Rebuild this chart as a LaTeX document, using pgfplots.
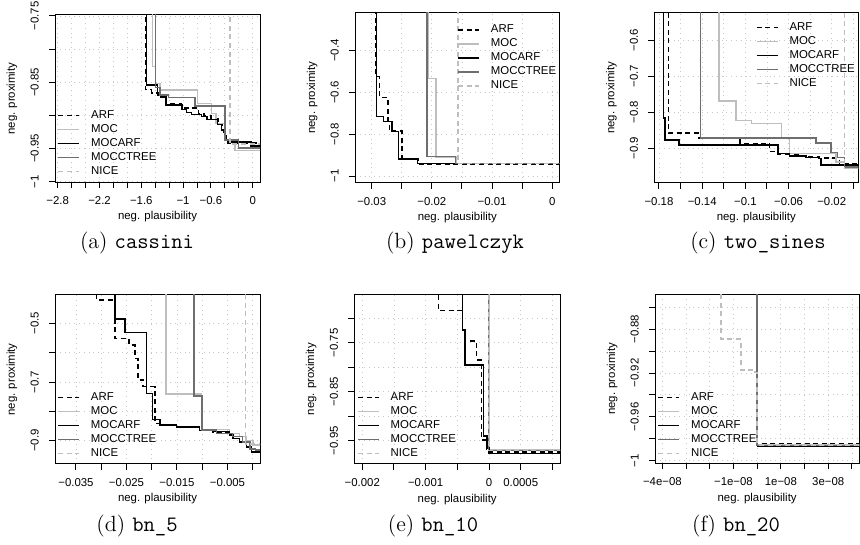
\documentclass[border=0pt]{standalone}
\usepackage{fontspec}
\usepackage{pgfplots}
\pgfplotsset{compat=1.18}
\newfontfamily\rfont{Liberation Sans}
\newcommand\rf{\rfont\fontsize{5.7}{6.8}\selectfont}
\definecolor{mocgray}{RGB}{190,190,190}
\definecolor{treegray}{RGB}{110,110,110}
\definecolor{gridgray}{RGB}{200,200,200}

\tikzset{
  arf/.style={black, line width=0.75pt, dash pattern=on 2.5pt off 1.8pt},
  moc/.style={mocgray, line width=0.75pt},
  mocarf/.style={black, line width=0.75pt},
  tree/.style={treegray, line width=0.75pt},
  nice/.style={mocgray, line width=0.75pt, dash pattern=on 2.5pt off 1.8pt},
}

\pgfplotsset{
  rpanel/.style={
    scale only axis, anchor=south west,
    const plot, clip=true, scaled ticks=false,
    axis line style={line width=0.5pt},
    tick align=outside, xtick pos=left, ytick pos=left,
    major tick length=3pt, tick style={black, line width=0.5pt},
    xmajorgrids, ymajorgrids, major grid style={dotted, gridgray, line width=0.45pt},
    tick label style={font=\rf}, label style={font=\rf},
    xticklabel style={anchor=north, inner sep=0pt},
    yticklabel style={rotate=90, anchor=south, inner sep=0pt},
    xticklabel shift=4pt, yticklabel shift=5pt,
    xlabel={neg. plausibility}, ylabel={neg. proximity},
    xlabel style={at={(axis description cs:0.5,-0.207)}, anchor=center},
    ylabel style={at={(axis description cs:-0.21,0.5)}, anchor=center},
    legend style={draw=none, fill=none, font=\rf, inner sep=0pt, row sep=1.6pt, anchor=north west,
      nodes={inner sep=0pt, text height=4.2pt, text depth=1.2pt}},
    legend cell align=left,
    legend image code/.code={\draw[##1] (0pt,0pt) -- (10.5pt,0pt); \path (16pt,0pt);},
  },
}

\begin{document}
\begin{tikzpicture}
\path (0pt,0pt) rectangle (430pt,-272.5pt);

% (a) cassini
\begin{axis}[rpanel, at={(27.5pt,-91.15pt)}, width=102.5pt, height=83.65pt,
  xmin=-2.839, xmax=0.105, ymin=-1.001, ymax=-0.7485,
  xtick={-2.8,-2.6,-2.4,-2.2,-2,-1.8,-1.6,-1.4,-1.2,-1,-0.8,-0.6,-0.4,-0.2,0},
  xticklabels={−2.8,,,−2.2,,,−1.6,,,−1,,−0.6,,,0},
  ytick={-1,-0.95,-0.9,-0.85,-0.8,-0.75},
  yticklabels={−1,−0.95,,−0.85,,−0.75},
  legend style={at={(0.011,0.433)}}]
\addplot[arf] coordinates {(-1.542,-0.70)(-1.542,-0.861)(-1.45,-0.866)(-1.36,-0.872)(-1.25,-0.883)(-1.02,-0.889)(-0.781,-0.897)(-0.70,-0.901)(-0.60,-0.905)(-0.50,-0.912)(-0.44,-0.921)(-0.41,-0.930)(-0.385,-0.937)(-0.36,-0.942)(0.2,-0.942)};
\addplot[moc] coordinates {(-1.436,-0.70)(-1.436,-0.8265)(-1.393,-0.852)(-1.331,-0.862)(-0.790,-0.882)(-0.589,-0.897)(-0.527,-0.912)(-0.398,-0.937)(-0.254,-0.953)(0.2,-0.953)};
\addplot[mocarf] coordinates {(-1.528,-0.70)(-1.528,-0.854)(-1.364,-0.869)(-1.245,-0.884)(-1.019,-0.891)(-0.948,-0.896)(-0.876,-0.899)(-0.732,-0.902)(-0.660,-0.906)(-0.503,-0.914)(-0.445,-0.922)(-0.408,-0.930)(-0.388,-0.937)(-0.359,-0.940)(-0.024,-0.946)(0.2,-0.946)};
\addplot[tree] coordinates {(-1.395,-0.70)(-1.395,-0.8576)(-1.331,-0.869)(-1.211,-0.873)(-0.828,-0.886)(-0.398,-0.937)(-0.207,-0.949)(0.2,-0.949)};
\addplot[nice] coordinates {(-0.326,-0.70)(-0.326,-0.943)(0.2,-0.943)};
\legend{ARF,MOC,MOCARF,MOCCTREE,NICE}
\end{axis}

% (b) pawelczyk
\begin{axis}[rpanel, at={(177.5pt,-91.35pt)}, width=102.25pt, height=85pt,
  xmin=-0.03278, xmax=0.00122, ymin=-1.032, ymax=-0.218,
  xtick={-0.03,-0.025,-0.02,-0.015,-0.01,-0.005,0},
  xticklabels={−0.03,,−0.02,,−0.01,,0},
  ytick={-1,-0.8,-0.6,-0.4},
  yticklabels={−1,−0.8,−0.6,−0.4},
  legend style={at={(0.499,0.933)}}]
\addplot[arf] coordinates {(-0.0293,-0.2)(-0.0293,-0.524)(-0.0287,-0.623)(-0.02733,-0.740)(-0.02707,-0.785)(-0.0250,-0.918)(-0.0223,-0.942)(0.002,-0.942)};
\addplot[moc] coordinates {(-0.02067,-0.2)(-0.02067,-0.532)(-0.01928,-0.909)(-0.0159,-0.940)(0.002,-0.940)};
\addplot[mocarf] coordinates {(-0.02917,-0.2)(-0.02917,-0.716)(-0.02807,-0.740)(-0.02667,-0.788)(-0.02557,-0.918)(-0.0224,-0.939)(0.002,-0.939)};
\addplot[tree] coordinates {(-0.02083,-0.2)(-0.02083,-0.907)(-0.0161,-0.939)(0.002,-0.939)};
\addplot[nice] coordinates {(-0.01567,-0.2)(-0.01567,-0.941)(0.002,-0.941)};
\legend{ARF,MOC,MOCARF,MOCCTREE,NICE}
\end{axis}

% (c) two_sines
\begin{axis}[rpanel, at={(327.15pt,-91.35pt)}, width=102pt, height=85pt,
  xmin=-0.18434, xmax=0.0046, ymin=-0.995, ymax=-0.524,
  xtick={-0.18,-0.16,-0.14,-0.12,-0.1,-0.08,-0.06,-0.04,-0.02,0},
  xticklabels={−0.18,,−0.14,,−0.1,,−0.06,,−0.02,},
  ytick={-0.9,-0.8,-0.7,-0.6},
  yticklabels={−0.9,−0.8,−0.7,−0.6},
  legend style={at={(0.497,0.946)}}]
\addplot[arf] coordinates {(-0.1714,-0.5)(-0.1714,-0.858)(-0.1428,-0.872)(-0.1052,-0.886)(-0.0775,-0.909)(-0.0699,-0.915)(-0.05,-0.922)(-0.032,-0.927)(-0.0129,-0.943)(0.01,-0.943)};
\addplot[moc] coordinates {(-0.1243,-0.5)(-0.1243,-0.768)(-0.1089,-0.822)(-0.0944,-0.831)(-0.0667,-0.872)(-0.059,-0.914)(-0.016,-0.937)(-0.008,-0.955)(0.01,-0.955)};
\addplot[mocarf] coordinates {(-0.176,-0.5)(-0.176,-0.816)(-0.1745,-0.877)(-0.1613,-0.891)(-0.0699,-0.914)(-0.059,-0.921)(-0.0437,-0.925)(-0.0314,-0.928)(-0.0298,-0.946)(0.01,-0.946)};
\addplot[tree] coordinates {(-0.1415,-0.5)(-0.1415,-0.871)(-0.0344,-0.885)(-0.0206,-0.912)(-0.0145,-0.925)(-0.008,-0.952)(0.01,-0.952)};
\addplot[nice] coordinates {(-0.0083,-0.5)(-0.0083,-0.955)(0.01,-0.955)};
\legend{ARF,MOC,MOCARF,MOCCTREE,NICE}
\end{axis}

% (d) bn_5
\begin{axis}[rpanel, at={(27.5pt,-232pt)}, width=102.5pt, height=84.5pt,
  xmin=-0.03915, xmax=0.00144, ymin=-0.9795, ymax=-0.4034,
  xtick={-0.035,-0.03,-0.025,-0.02,-0.015,-0.01,-0.005,0},
  xticklabels={−0.035,,−0.025,,−0.015,,−0.005,},
  ytick={-0.9,-0.8,-0.7,-0.6,-0.5},
  yticklabels={−0.9,,−0.7,,−0.5},
  legend style={at={(0.01,0.427)}}]
\addplot[arf] coordinates {(-0.03092,-0.40)(-0.03092,-0.4204)(-0.02729,-0.551)(-0.02446,-0.574)(-0.02334,-0.62)(-0.02268,-0.693)(-0.02169,-0.716)(-0.01939,-0.841)(-0.0184,-0.849)(-0.0151,-0.855)(-0.0105,-0.866)(-0.0079,-0.870)(-0.00457,-0.881)(-0.00391,-0.892)(-0.00259,-0.904)(-0.00127,-0.921)(-0.00028,-0.938)(0.003,-0.938)};
\addplot[moc] coordinates {(-0.01721,-0.40)(-0.01721,-0.741)(-0.01016,-0.862)(-0.00457,-0.875)(-0.00259,-0.886)(-0.0013,-0.900)(0.00005,-0.915)(0.003,-0.915)};
\addplot[mocarf] coordinates {(-0.02729,-0.40)(-0.02729,-0.486)(-0.02532,-0.531)(-0.02103,-0.739)(-0.01985,-0.828)(-0.0184,-0.847)(-0.0151,-0.853)(-0.0105,-0.866)(-0.0079,-0.869)(-0.00457,-0.881)(-0.00391,-0.892)(-0.00259,-0.904)(-0.00127,-0.921)(-0.00028,-0.938)(0.003,-0.938)};
\addplot[tree] coordinates {(-0.01168,-0.40)(-0.01168,-0.748)(-0.0100,-0.864)(-0.0072,-0.875)(-0.0040,-0.886)(-0.0020,-0.905)(-0.0005,-0.928)(0.0005,-0.932)(0.003,-0.932)};
\addplot[nice] coordinates {(-0.0014,-0.40)(-0.0014,-0.912)(0.003,-0.912)};
\legend{ARF,MOC,MOCARF,MOCCTREE,NICE}
\end{axis}

% (e) bn_10
\begin{axis}[rpanel, at={(177.15pt,-232pt)}, width=102.85pt, height=84.85pt,
  xmin=-0.002126, xmax=0.00112, ymin=-0.9976, ymax=-0.651,
  xtick={-0.002,-0.0015,-0.001,-0.0005,0,0.0005,0.001},
  xticklabels={−0.002,,−0.001,,0,0.0005,},
  ytick={-0.95,-0.9,-0.85,-0.8,-0.75,-0.7},
  yticklabels={−0.95,,−0.85,,−0.75,},
  legend style={at={(0.012,0.425)}}]
\addplot[arf] coordinates {(-0.0008,-0.6)(-0.0008,-0.6846)(-0.000421,-0.724)(-0.000379,-0.746)(-0.000195,-0.785)(-0.000116,-0.949)(-0.000037,-0.973)(0.002,-0.973)};
\addplot[moc] coordinates {(0,-0.6)(0,-0.969)(0.002,-0.969)};
\addplot[mocarf] coordinates {(-0.000416,-0.6)(-0.000416,-0.724)(-0.000379,-0.7956)(-0.0000895,-0.94)(-0.00003,-0.965)(0,-0.976)(0.002,-0.976)};
\addplot[tree] coordinates {(-0.000005,-0.6)(-0.000005,-0.970)(0.002,-0.970)};
\addplot[nice] coordinates {(0,-0.6)(0,-0.970)(0.002,-0.970)};
\legend{ARF,MOC,MOCARF,MOCCTREE,NICE}
\end{axis}

% (f) bn_20
\begin{axis}[rpanel, at={(327.5pt,-231.65pt)}, width=102.15pt, height=84.5pt,
  xmin=-4.31e-8, xmax=4.31e-8, ymin=-1.0024, ymax=-0.8481,
  xtick={-4e-8,-3e-8,-2e-8,-1e-8,0,1e-8,2e-8,3e-8,4e-8},
  xticklabels={−4e−08,,,−1e−08,,1e−08,,3e−08,},
  ytick={-1,-0.98,-0.96,-0.94,-0.92,-0.9,-0.88,-0.86},
  yticklabels={−1,,−0.96,,−0.92,,−0.88,},
  legend style={at={(0.011,0.423)}}]
\addplot[arf] coordinates {(-0.03e-8,-0.84)(-0.03e-8,-0.9845)(5e-8,-0.9845)};
\addplot[moc] coordinates {(0,-0.84)(0,-0.9856)(5e-8,-0.9856)};
\addplot[mocarf] coordinates {(0.01e-8,-0.84)(0.01e-8,-0.9870)(5e-8,-0.9870)};
\addplot[tree] coordinates {(0,-0.84)(0,-0.9860)(5e-8,-0.9860)};
\addplot[nice] coordinates {(-1.535e-8,-0.84)(-1.535e-8,-0.8891)(-0.69e-8,-0.9171)(-0.085e-8,-0.9196)(0,-0.9856)(5e-8,-0.9856)};
\legend{ARF,MOC,MOCARF,MOCCTREE,NICE}
\end{axis}

% sub-captions
\node[font=\fontsize{11}{13}\selectfont] at (68.5pt,-121.5pt) {(a) \texttt{cassini}};
\node[font=\fontsize{11}{13}\selectfont] at (227.5pt,-121.5pt) {(b) \texttt{pawelczyk}};
\node[font=\fontsize{11}{13}\selectfont] at (379pt,-121.5pt) {(c) \texttt{two\_sines}};
\node[font=\fontsize{11}{13}\selectfont] at (68.5pt,-263pt) {(d) \texttt{bn\_5}};
\node[font=\fontsize{11}{13}\selectfont] at (216.5pt,-263pt) {(e) \texttt{bn\_10}};
\node[font=\fontsize{11}{13}\selectfont] at (368pt,-263pt) {(f) \texttt{bn\_20}};
\end{tikzpicture}
\end{document}
